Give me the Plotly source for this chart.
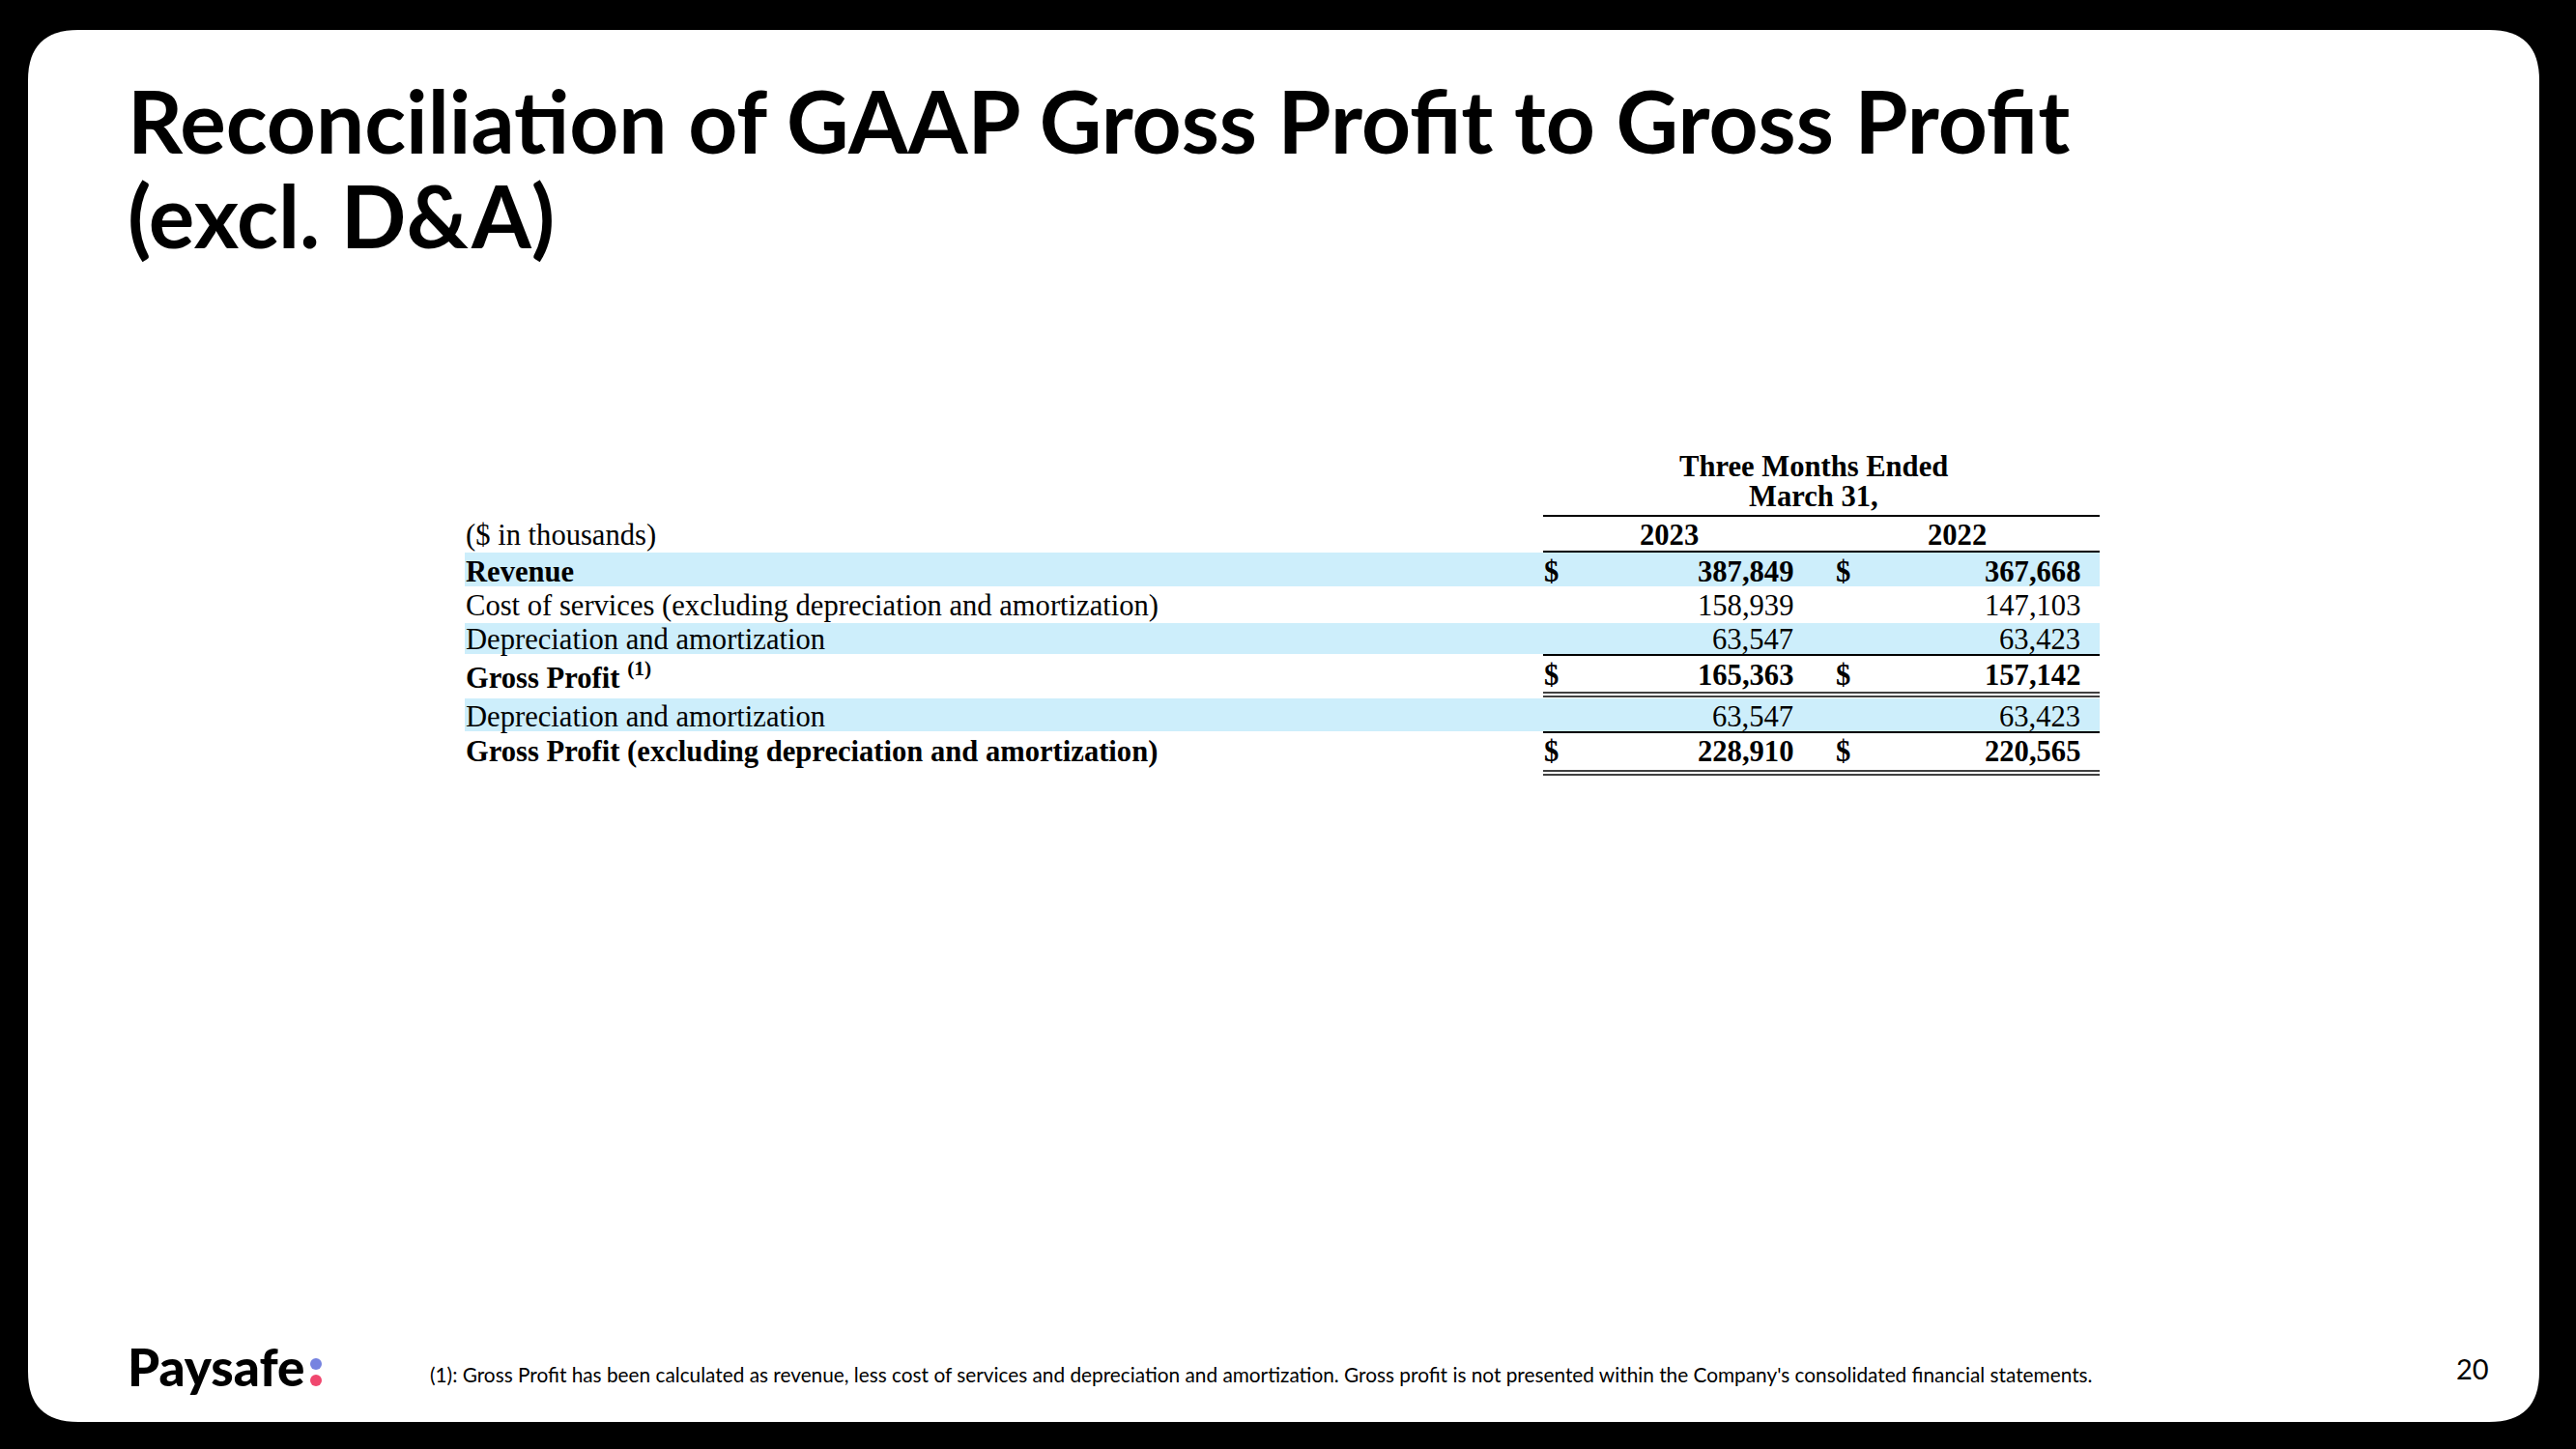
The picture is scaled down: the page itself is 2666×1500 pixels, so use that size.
import plotly.graph_objects as go

W, H = 2666, 1500

# ---------------- data ----------------
title_lines = ["Reconciliation of GAAP Gross Profit to Gross Profit", "(excl. D&A)"]
header_period = ["Three Months Ended", "March 31,"]
units_label = "($ in thousands)"
years = ["2023", "2022"]
row_labels = [
    "Revenue",
    "Cost of services (excluding depreciation and amortization)",
    "Depreciation and amortization",
    "Gross Profit <sup>(1)</sup>",
    "Depreciation and amortization",
    "Gross Profit (excluding depreciation and amortization)",
]
values_2023 = [387849, 158939, 63547, 165363, 63547, 228910]
values_2022 = [367668, 147103, 63423, 157142, 63423, 220565]
row_bold = [True, False, False, True, False, True]
row_dollar = [True, False, False, True, False, True]
row_shaded = [True, False, True, False, True, False]
footnote = ("(1): Gross Profit has been calculated as revenue, less cost of services and depreciation "
            "and amortization. Gross profit is not presented within the Company's consolidated financial statements.")
page_number = "20"
logo_text = "Paysafe"

# ---------------- layout (pixel positions) ----------------
card = dict(x0=29, y0=31, x1=2628, y1=1472, r=52)
label_x = 481
table_right = 2173
num_left = 1597
dollar_x = [1597, 1899]
value_right = [1857, 2154]
year_cx = [1727, 2025]
period_cx = 1877
period_y = [483, 514]
years_y = 554
row_top = [571, 607, 643, 678, 721, 758]
row_bottom = [607, 643, 678, 717, 758, 797]
text_y = [592, 627, 662, 699, 742, 778]
single_rules = [534, 571, 678, 758]
double_rules = [(717, 721), (798, 802)]

SERIF = "Liberation Serif, Times New Roman, serif"
SANS = "Lato, Open Sans, sans-serif"
TFS = 30.6

fig = go.Figure()
shapes = []
annotations = []

# rounded white card
x0, y0, x1, y1, r = card["x0"], card["y0"], card["x1"], card["y1"], card["r"]
path = (f"M {x0+r},{y0} L {x1-r},{y0} Q {x1},{y0} {x1},{y0+r} L {x1},{y1-r} "
        f"Q {x1},{y1} {x1-r},{y1} L {x0+r},{y1} Q {x0},{y1} {x0},{y1-r} "
        f"L {x0},{y0+r} Q {x0},{y0} {x0+r},{y0} Z")
shapes.append(dict(type="path", path=path, xref="x", yref="y",
                   fillcolor="white", line=dict(width=0), layer="below"))

# shaded bands
for i, sh in enumerate(row_shaded):
    if sh:
        shapes.append(dict(type="rect", xref="x", yref="y", x0=label_x, x1=table_right,
                           y0=row_top[i] + (2 if i > 0 else 1), y1=row_bottom[i] - (1 if i == 2 or i == 4 else 0),
                           fillcolor="#CDEEFB", line=dict(width=0), layer="below"))

# rules
for yy in single_rules:
    shapes.append(dict(type="line", xref="x", yref="y", x0=num_left, x1=table_right,
                       y0=yy, y1=yy, line=dict(color="black", width=2.2)))
for ya, yb in double_rules:
    for yy in (ya, yb):
        shapes.append(dict(type="line", xref="x", yref="y", x0=num_left, x1=table_right,
                           y0=yy, y1=yy, line=dict(color="black", width=1.6)))

def ann(text, x, y, size, family, xanchor="left", color="black", weight="normal", yanchor="middle"):
    annotations.append(dict(text=text, x=x, y=y, xref="x", yref="y", showarrow=False,
                            xanchor=xanchor, yanchor=yanchor,
                            font=dict(size=size, family=family, color=color, weight=weight),
                            borderpad=0))

# title
ann(title_lines[0], 131, 124, 89, SANS, weight="bold")
ann(title_lines[1], 131, 222, 89, SANS, weight="bold")

# header
for t, yy in zip(header_period, period_y):
    ann(t, period_cx, yy, TFS, SERIF, xanchor="center", weight="bold")
ann(units_label, label_x, years_y, TFS, SERIF)
for yv, cx in zip(years, year_cx):
    ann(yv, cx, years_y, TFS, SERIF, xanchor="center", weight="bold")

# rows
for i, lab in enumerate(row_labels):
    w = "bold" if row_bold[i] else "normal"
    ann(lab, label_x, text_y[i], TFS, SERIF, weight=w)
    for j, vals in enumerate([values_2023, values_2022]):
        ann(f"{vals[i]:,}", value_right[j], text_y[i], TFS, SERIF, xanchor="right", weight=w)
        if row_dollar[i]:
            ann("$", dollar_x[j], text_y[i], TFS, SERIF, weight="bold")

# footer
ann(footnote, 444, 1422, 20.8, SANS)
ann(page_number, 2559, 1416, 29, SANS, xanchor="center")
ann(logo_text, 131, 1414, 53, SANS, weight=900)
shapes.append(dict(type="circle", xref="x", yref="y", x0=321, x1=333, y0=1406, y1=1418,
                   fillcolor="#7683E0", line=dict(width=0)))
shapes.append(dict(type="circle", xref="x", yref="y", x0=321, x1=333, y0=1423, y1=1435,
                   fillcolor="#F0476E", line=dict(width=0)))

fig.update_layout(
    width=W, height=H, margin=dict(l=0, r=0, t=0, b=0),
    paper_bgcolor="black", plot_bgcolor="black",
    xaxis=dict(range=[0, W], visible=False, fixedrange=True),
    yaxis=dict(range=[H, 0], visible=False, fixedrange=True),
    shapes=shapes, annotations=annotations, showlegend=False,
)
fig.write_html(
    "out.html",
    config={"displayModeBar": False},
    post_script="document.body.style.margin='0';document.body.style.background='black';",
)
